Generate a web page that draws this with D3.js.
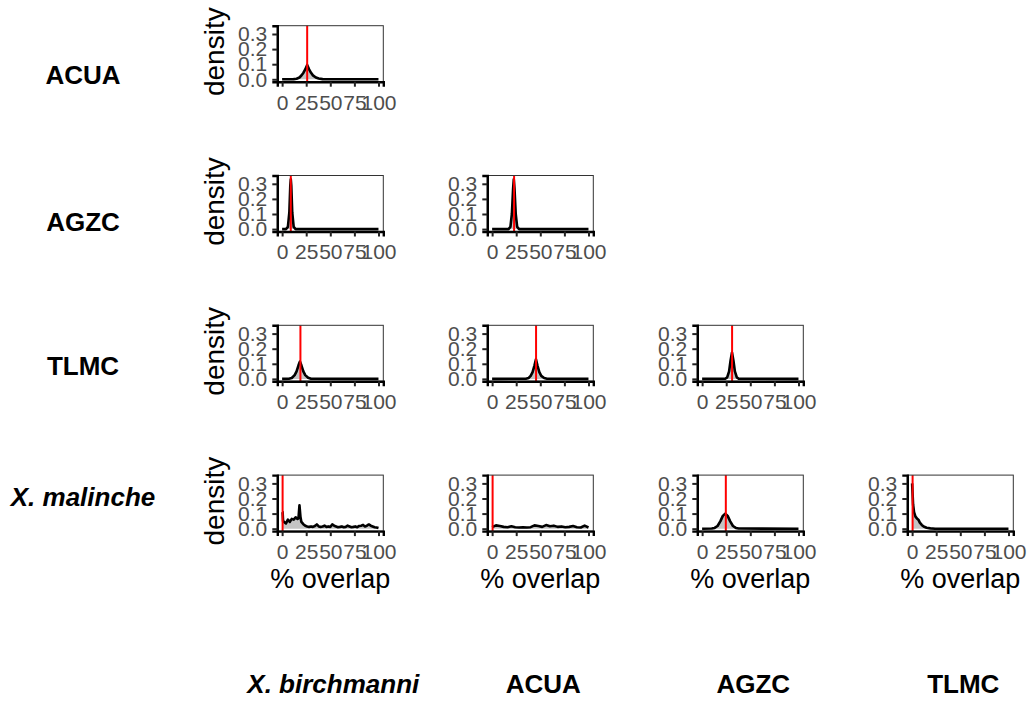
<!DOCTYPE html>
<html>
<head>
<meta charset="utf-8">
<script src="https://cdn.jsdelivr.net/npm/d3@7"></script>
<style>
  body { margin: 0; background: #fff; }
  svg text { font-family: "Liberation Sans", Arial, sans-serif; }
</style>
</head>
<body>
<div id="chart"></div>
<script>
// labels
const rowLabels = ["ACUA", "AGZC", "TLMC", "X. malinche"];
const colLabels = ["X. birchmanni", "ACUA", "AGZC", "TLMC"];
const italicLabels = ["X. malinche", "X. birchmanni"];
const xTicks = [0, 25, 50, 75, 100];
const yTicks = [0, 0.1, 0.2, 0.3];

// density of % overlap per pair (x = % overlap, y = density)
const acuaBirchX = [0, 12, 15, 18, 20, 22, 24, 26, 28, 30, 32, 35, 38, 42, 100];
const acuaBirchY = [0, 0.001, 0.004, 0.012, 0.025, 0.042, 0.065, 0.095, 0.066, 0.043, 0.026, 0.012, 0.005, 0.001, 0];

const agzcBirchX = [0, 4, 6, 7.5, 8.5, 9, 9.5, 10.5, 12, 14, 100];
const agzcBirchY = [0, 0, 0.015, 0.11, 0.29, 0.33, 0.29, 0.11, 0.015, 0, 0];

const agzcAcuaX = [0, 17, 19, 20.5, 21.8, 22.5, 23.2, 24.5, 26, 28, 100];
const agzcAcuaY = [0, 0, 0.015, 0.1, 0.27, 0.33, 0.27, 0.1, 0.015, 0, 0];

const tlmcBirchX = [0, 7, 10, 13, 15, 17, 18.5, 20, 22, 24, 27, 30, 100];
const tlmcBirchY = [0, 0.001, 0.006, 0.025, 0.05, 0.09, 0.115, 0.09, 0.05, 0.025, 0.008, 0.001, 0];

const tlmcAcuaX = [0, 35, 38, 40, 42, 44, 45.5, 47, 49, 51, 54, 57, 100];
const tlmcAcuaY = [0, 0.001, 0.006, 0.02, 0.045, 0.09, 0.13, 0.09, 0.045, 0.02, 0.006, 0.001, 0];

const tlmcAgzcX = [0, 24, 26, 28, 29.5, 31, 32.5, 34, 36, 38, 100];
const tlmcAgzcY = [0, 0.001, 0.01, 0.05, 0.12, 0.175, 0.12, 0.05, 0.01, 0.001, 0];

const malBirchX = [0, 0.5, 1, 2, 4, 6, 8, 10, 12, 14, 16, 17, 18, 19, 20, 22, 24, 26, 28, 30, 32, 34, 36, 38, 40,
  42, 44, 46, 48, 50, 52, 54, 56, 58, 60, 62, 64, 66, 68, 70, 72, 74, 76, 78, 80, 82, 84, 86, 88, 90, 92, 94, 96, 98, 100];
const malBirchY = [0.11, 0.11, 0.05, 0.045, 0.035, 0.06, 0.045, 0.065, 0.06, 0.075, 0.065, 0.07, 0.155, 0.08, 0.045, 0.03, 0.02, 0.015, 0.012, 0.015,
  0.012, 0.018, 0.028, 0.015, 0.012, 0.015, 0.02, 0.012, 0.015, 0.012, 0.028, 0.02, 0.015, 0.01, 0.012, 0.015, 0.01, 0.012, 0.02, 0.015,
  0.01, 0.012, 0.015, 0.01, 0.018, 0.02, 0.025, 0.015, 0.02, 0.028, 0.02, 0.015, 0.01, 0.008, 0.004];

const malAcuaX = [0, 4, 8, 12, 16, 20, 24, 28, 32, 36, 40, 44, 48, 52, 56, 60, 64, 68, 72, 76, 80, 84, 88, 92, 96, 100];
const malAcuaY = [0.01, 0.022, 0.018, 0.012, 0.01, 0.016, 0.01, 0.008, 0.01, 0.008, 0.01, 0.022, 0.018, 0.012, 0.024, 0.016,
  0.02, 0.012, 0.015, 0.01, 0.012, 0.018, 0.01, 0.008, 0.02, 0.008];

const malAgzcX = [0, 10, 13, 16, 19, 21.5, 24, 26.5, 29, 32, 35, 38, 100];
const malAgzcY = [0, 0.001, 0.005, 0.018, 0.05, 0.085, 0.1, 0.085, 0.05, 0.018, 0.005, 0.001, 0];

const malTlmcX = [0, 1, 2, 3.5, 5, 6.5, 8, 10, 12, 15, 19, 24, 100];
const malTlmcY = [0.3, 0.16, 0.11, 0.08, 0.068, 0.06, 0.04, 0.025, 0.014, 0.006, 0.002, 0, 0];

// observed values (red lines)
const observed = [26, 9, 22.8, 19, 45.6, 31.1, 0.5, 0.5, 24.6, 0.5];

const panels = [
  {row: 0, col: 0, x: acuaBirchX, y: acuaBirchY, obs: observed[0]},
  {row: 1, col: 0, x: agzcBirchX, y: agzcBirchY, obs: observed[1]},
  {row: 1, col: 1, x: agzcAcuaX, y: agzcAcuaY, obs: observed[2]},
  {row: 2, col: 0, x: tlmcBirchX, y: tlmcBirchY, obs: observed[3]},
  {row: 2, col: 1, x: tlmcAcuaX, y: tlmcAcuaY, obs: observed[4]},
  {row: 2, col: 2, x: tlmcAgzcX, y: tlmcAgzcY, obs: observed[5]},
  {row: 3, col: 0, x: malBirchX, y: malBirchY, obs: observed[6]},
  {row: 3, col: 1, x: malAcuaX, y: malAcuaY, obs: observed[7]},
  {row: 3, col: 2, x: malAgzcX, y: malAgzcY, obs: observed[8]},
  {row: 3, col: 3, x: malTlmcX, y: malTlmcY, obs: observed[9]}
];

const width = 1029, height = 708;
const panelW = 106, panelH = 56;
const left0 = 277.3, top0 = 25.7, colStep = 210, rowStep = 149.8;

const svg = d3.select('#chart').append('svg')
  .attr('width', width)
  .attr('height', height);

panels.forEach(p => {
  const left = left0 + p.col * colStep;
  const top = top0 + p.row * rowStep;
  const x = d3.scaleLinear().domain([-5, 105]).range([left, left + panelW]);
  const y = d3.scaleLinear().domain([-0.016, 0.355]).range([top + panelH, top]);
  const g = svg.append('g');
  const pts = p.x.map((v, i) => [v, p.y[i]]);

  // filled density
  g.append('path')
    .datum(pts)
    .attr('fill', '#c4c4c4')
    .attr('d', d3.area().x(d => x(d[0])).y0(y(0)).y1(d => y(d[1])));
  g.append('path')
    .datum(pts)
    .attr('fill', 'none')
    .attr('stroke', '#000')
    .attr('stroke-width', 2.6)
    .attr('stroke-linejoin', 'round')
    .attr('d', d3.line().x(d => x(d[0])).y(d => y(d[1])));

  // observed value
  g.append('line')
    .attr('x1', x(p.obs)).attr('x2', x(p.obs))
    .attr('y1', top).attr('y2', top + panelH)
    .attr('stroke', '#ff0000')
    .attr('stroke-width', 2);

  // panel border
  g.append('rect')
    .attr('x', left).attr('y', top)
    .attr('width', panelW).attr('height', panelH)
    .attr('fill', 'none')
    .attr('stroke', '#333')
    .attr('stroke-width', 1);

  // x axis
  const xAxis = g.append('g').attr('transform', `translate(0,${top + panelH})`)
    .call(d3.axisBottom(x).tickValues(xTicks).tickSize(5).tickPadding(8).tickFormat(d3.format('d')));
  xAxis.select('.domain').attr('stroke', '#000').attr('stroke-width', 2.4);
  xAxis.selectAll('.tick line').attr('stroke', '#222').attr('stroke-width', 2);
  xAxis.selectAll('.tick text')
    .attr('fill', '#4d4d4d')
    .style('font-size', '21px');

  // y axis
  const yAxis = g.append('g').attr('transform', `translate(${left},0)`)
    .call(d3.axisLeft(y).tickValues(yTicks).tickSize(5).tickPadding(5).tickFormat(d3.format('.1f')));
  yAxis.select('.domain').attr('stroke', '#000').attr('stroke-width', 2.4);
  yAxis.selectAll('.tick line').attr('stroke', '#222').attr('stroke-width', 2);
  yAxis.selectAll('.tick text')
    .attr('fill', '#4d4d4d')
    .style('font-size', '21px');

  if (p.col === 0) {
    g.append('text')
      .attr('transform', `translate(224,${top + panelH / 2 - 2}) rotate(-90)`)
      .attr('text-anchor', 'middle')
      .style('font-size', '28px')
      .text('density');
  }
  if (p.row === 3) {
    g.append('text')
      .attr('x', left + panelW / 2)
      .attr('y', 588)
      .attr('text-anchor', 'middle')
      .style('font-size', '27px')
      .text('% overlap');
  }
});

// row labels
const rowLabelY = [84, 231, 375, 506];
svg.selectAll('.row-label')
  .data(rowLabels)
  .enter()
  .append('text')
  .attr('class', 'row-label')
  .attr('x', 83)
  .attr('y', (d, i) => rowLabelY[i])
  .attr('text-anchor', 'middle')
  .style('font-size', '26px')
  .style('font-weight', 'bold')
  .style('font-style', d => italicLabels.includes(d) ? 'italic' : 'normal')
  .text(d => d);

// column labels
svg.selectAll('.col-label')
  .data(colLabels)
  .enter()
  .append('text')
  .attr('class', 'col-label')
  .attr('x', (d, i) => left0 + i * colStep + panelW / 2 + 3)
  .attr('y', 693)
  .attr('text-anchor', 'middle')
  .style('font-size', '26px')
  .style('font-weight', 'bold')
  .style('font-style', d => italicLabels.includes(d) ? 'italic' : 'normal')
  .text(d => d);
</script>
</body>
</html>
